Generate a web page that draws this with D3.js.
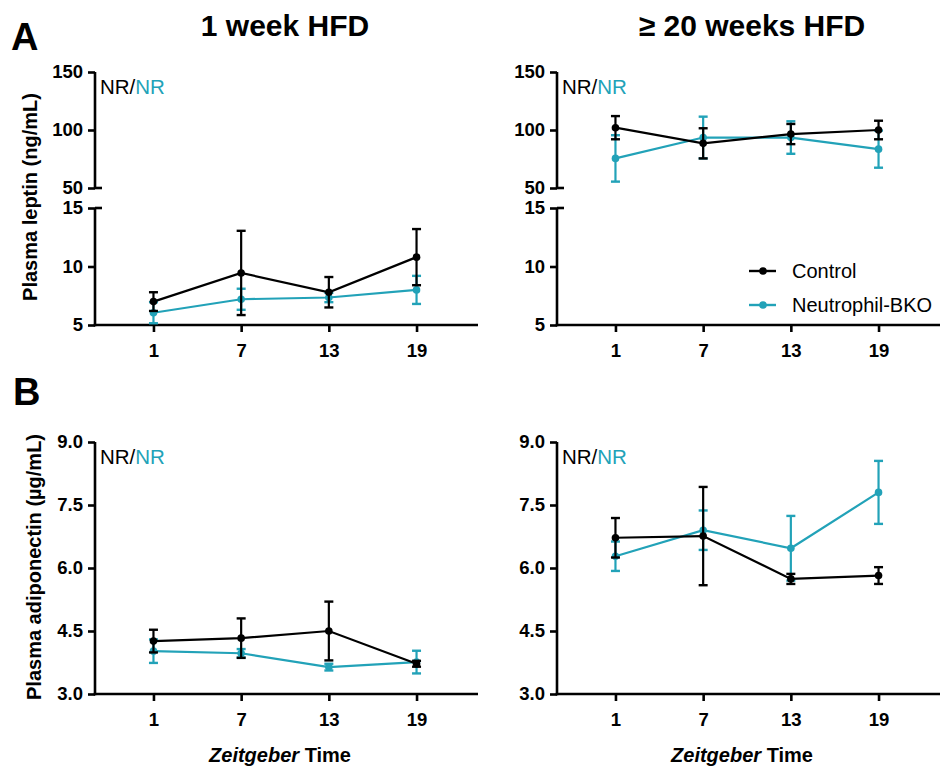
<!DOCTYPE html>
<html><head><meta charset="utf-8">
<script src="https://cdn.jsdelivr.net/npm/d3@7"></script>
<style>
body{margin:0;background:#fff;}
text{font-family:"Liberation Sans",Arial,sans-serif;}
</style></head>
<body><svg id="c" width="943" height="773"></svg>
<script>
// ---- data ----
const zt = [1, 7, 13, 19];
const xTicks = [1, 7, 13, 19];
const seriesNames = ["Control", "Neutrophil-BKO"];
const colors = ["#000000", "#22a2b8"];

const leptin1wCtrl = [7.0, 9.45, 7.8, 10.8];
const leptin1wCtrlErr = [0.8, 3.6, 1.3, 2.4];
const leptin1wBKO = [6.05, 7.2, 7.35, 8.0];
const leptin1wBKOErr = [0.9, 0.9, 0.4, 1.2];

const leptin20wCtrl = [102, 88.5, 96.5, 100];
const leptin20wCtrlErr = [10, 13, 8.7, 8];
const leptin20wBKO = [75.5, 93.5, 93.5, 83.5];
const leptin20wBKOErr = [20, 18, 14, 16];

const adipo1wCtrl = [4.26, 4.33, 4.5, 3.72];
const adipo1wCtrlErr = [0.27, 0.47, 0.7, 0.07];
const adipo1wBKO = [4.02, 3.97, 3.64, 3.76];
const adipo1wBKOErr = [0.28, 0.1, 0.08, 0.27];

const adipo20wCtrl = [6.72, 6.76, 5.74, 5.82];
const adipo20wCtrlErr = [0.47, 1.17, 0.12, 0.2];
const adipo20wBKO = [6.28, 6.9, 6.47, 7.8];
const adipo20wBKOErr = [0.35, 0.47, 0.77, 0.75];

const leptinUpperTicks = [50, 100, 150];
const leptinLowerTicks = [5, 10, 15];
const adipoTicks = [3.0, 4.5, 6.0, 7.5, 9.0];

// ---- drawing ----
const svg = d3.select("#c");
const AXW = 2.6;

function makePanel(x0, x1, yBottom, yScaleFn, axisSegs, ctrl, ctrlE, bko, bkoE) {
  const x = d3.scaleLinear().domain([-3, 23]).range([x0, x1]);
  const g = svg.append("g");
  // y axis segments
  axisSegs.forEach(seg => {
    const ax = d3.axisLeft(seg.scale).tickValues(seg.ticks).tickSize(7).tickSizeOuter(0)
      .tickFormat(seg.fmt);
    const a = g.append("g").attr("transform", `translate(${x0},0)`).call(ax);
    a.select(".domain").remove();
    a.selectAll(".tick line").attr("stroke", "#000").attr("stroke-width", AXW);
    a.selectAll(".tick text").attr("x", -12).attr("font-size", 18.5).attr("font-weight", "bold")
      .attr("fill", "#000");
    const r = seg.scale.range();
    g.append("line").attr("x1", x0).attr("x2", x0).attr("y1", r[0] + (seg.ext0||0)).attr("y2", r[1])
      .attr("stroke", "#000").attr("stroke-width", AXW);
    (seg.breakAt || []).forEach(v => {
      g.append("line").attr("x1", x0).attr("x2", x0 + 7)
        .attr("y1", seg.scale(v)).attr("y2", seg.scale(v))
        .attr("stroke", "#000").attr("stroke-width", AXW);
    });
  });
  // x axis
  const xa = d3.axisBottom(x).tickValues(xTicks).tickSize(7).tickSizeOuter(0);
  const xg = g.append("g").attr("transform", `translate(0,${yBottom})`).call(xa);
  xg.select(".domain").attr("stroke", "#000").attr("stroke-width", AXW);
  xg.selectAll(".tick line").attr("stroke", "#000").attr("stroke-width", AXW);
  xg.selectAll(".tick text").attr("y", 19).attr("font-size", 18.5).attr("font-weight", "bold").attr("fill", "#000");
  xg.select(".domain").attr("d", `M${x0 - AXW/2},0H${x1 + 3}`);

  // data
  const sets = [[bko, bkoE, colors[1]], [ctrl, ctrlE, colors[0]]];
  sets.forEach(([vals, errs, col]) => {
    const pts = zt.map((t, i) => ({t, v: vals[i], e: errs[i]}));
    const line = d3.line().x(d => x(d.t)).y(d => yScaleFn(d.v));
    g.append("path").datum(pts).attr("d", line).attr("fill", "none")
      .attr("stroke", col).attr("stroke-width", 2.2);
    const eb = g.append("g");
    pts.forEach(d => {
      const cx = x(d.t), yt = yScaleFn(d.v + d.e), yb = yScaleFn(d.v - d.e);
      eb.append("line").attr("x1", cx).attr("x2", cx).attr("y1", yt).attr("y2", yb)
        .attr("stroke", col).attr("stroke-width", 2.2);
      [yt, yb].forEach(yy => eb.append("line").attr("x1", cx - 4.5).attr("x2", cx + 4.5)
        .attr("y1", yy).attr("y2", yy).attr("stroke", col).attr("stroke-width", 2.4));
      eb.append("circle").attr("cx", cx).attr("cy", yScaleFn(d.v)).attr("r", 3.8).attr("fill", col);
    });
  });
  // NR/NR
  const t = g.append("text").attr("x", x0 + 5).attr("y", yScaleFn.topY + 22).attr("font-size", 20.5);
  t.append("tspan").attr("fill", colors[0]).text("NR/");
  t.append("tspan").attr("fill", colors[1]).text("NR");
  return x;
}

// leptin scales
function leptinScales() {
  const up = d3.scaleLinear().domain([50, 150]).range([188, 72]);
  const lo = d3.scaleLinear().domain([5, 15]).range([325, 208]);
  const f = v => v >= 30 ? up(v) : lo(v);
  f.topY = 72;
  return {up, lo, f};
}
const fmt0 = d3.format("d");
const fmt1 = d3.format(".1f");

[[95, 475, leptin1wCtrl, leptin1wCtrlErr, leptin1wBKO, leptin1wBKOErr],
 [557, 937, leptin20wCtrl, leptin20wCtrlErr, leptin20wBKO, leptin20wBKOErr]].forEach(p => {
  const s = leptinScales();
  makePanel(p[0], p[1], 325, s.f, [
    {scale: s.up, ticks: leptinUpperTicks, fmt: fmt0, breakAt: [50]},
    {scale: s.lo, ticks: leptinLowerTicks, fmt: fmt0, breakAt: [15], ext0: AXW/2}
  ], p[2], p[3], p[4], p[5]);
});

[[95, 475, adipo1wCtrl, adipo1wCtrlErr, adipo1wBKO, adipo1wBKOErr],
 [557, 937, adipo20wCtrl, adipo20wCtrlErr, adipo20wBKO, adipo20wBKOErr]].forEach(p => {
  const y = d3.scaleLinear().domain([3, 9]).range([694, 442]);
  const f = v => y(v); f.topY = 442;
  makePanel(p[0], p[1], 694, f, [
    {scale: y, ticks: adipoTicks, fmt: fmt1, ext0: AXW/2}
  ], p[2], p[3], p[4], p[5]);
});

// titles and labels
svg.append("text").attr("x", 285).attr("y", 36).attr("text-anchor", "middle")
  .attr("font-size", 30).attr("font-weight", "bold").text("1 week HFD");
svg.append("text").attr("x", 752).attr("y", 36).attr("text-anchor", "middle")
  .attr("font-size", 30).attr("font-weight", "bold").text("≥ 20 weeks HFD");
svg.append("text").attr("x", 11).attr("y", 50).attr("font-size", 38).attr("font-weight", "bold").text("A");
svg.append("text").attr("x", 13).attr("y", 405).attr("font-size", 38).attr("font-weight", "bold").text("B");

svg.append("text").attr("transform", "translate(37,197) rotate(-90)").attr("text-anchor", "middle")
  .attr("font-size", 20).attr("font-weight", "bold").text("Plasma leptin (ng/mL)");
svg.append("text").attr("transform", "translate(41,567) rotate(-90)").attr("text-anchor", "middle")
  .attr("font-size", 20).attr("font-weight", "bold").text("Plasma adiponectin (µg/mL)");

[280, 742].forEach(cx => {
  const t = svg.append("text").attr("x", cx).attr("y", 762).attr("text-anchor", "middle")
    .attr("font-size", 20).attr("font-weight", "bold");
  t.append("tspan").attr("font-style", "italic").text("Zeitgeber");
  t.append("tspan").text(" Time");
});

// legend
seriesNames.forEach((n, i) => {
  const yy = 271 + i * 34;
  const g = svg.append("g");
  g.append("line").attr("x1", 749).attr("x2", 776).attr("y1", yy).attr("y2", yy)
    .attr("stroke", colors[i]).attr("stroke-width", 2.4);
  g.append("circle").attr("cx", 763).attr("cy", yy).attr("r", 3.8).attr("fill", colors[i]);
  g.append("text").attr("x", 792).attr("y", yy + 7).attr("font-size", 20).attr("fill", "#000").text(n);
});
</script></body></html>
